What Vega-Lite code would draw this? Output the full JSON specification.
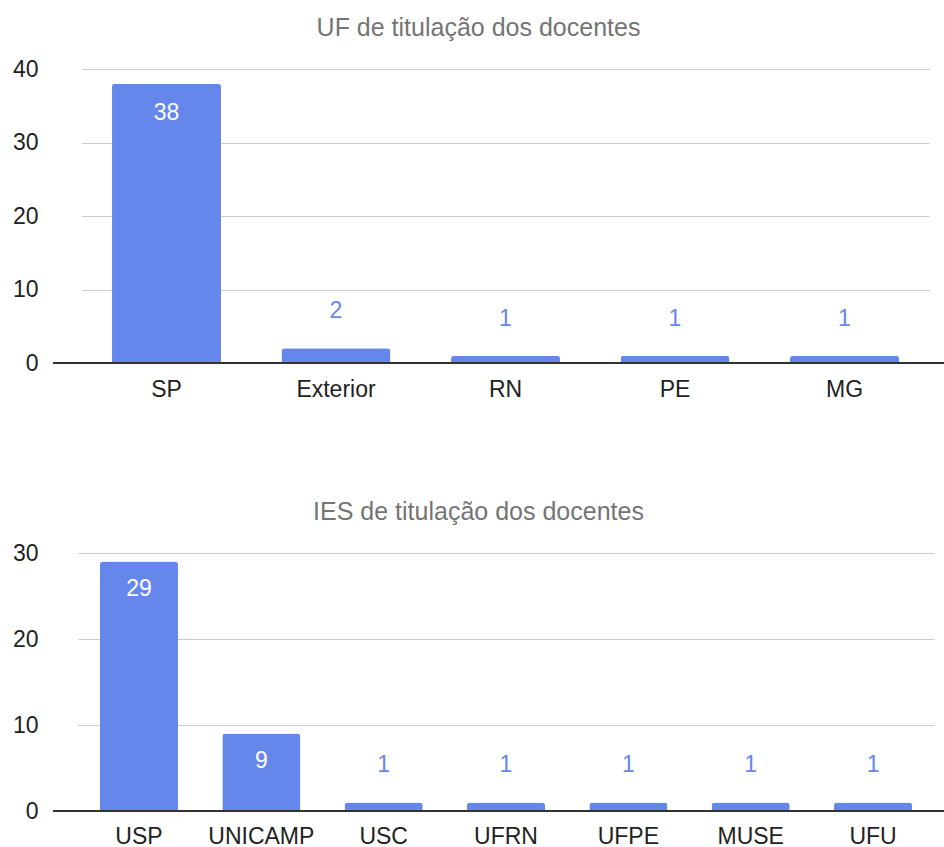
{
  "$schema": "https://vega.github.io/schema/vega-lite/v6.json",
  "background": "white",
  "padding": {"left": 12, "top": 16, "right": 0, "bottom": 0},
  "spacing": 99,
  "config": {
    "font": "Liberation Sans",
    "view": {"stroke": null},
    "title": {"font": "Liberation Sans", "fontSize": 25, "fontWeight": "normal", "color": "#757575", "anchor": "middle", "offset": 17, "dx": -20},
    "axis": {"labelFont": "Liberation Sans", "labelFontSize": 23, "labelColor": "#222222", "title": null}
  },
  "datasets": {
    "uf": [
      {"cat": "SP", "v": 38},
      {"cat": "Exterior", "v": 2},
      {"cat": "RN", "v": 1},
      {"cat": "PE", "v": 1},
      {"cat": "MG", "v": 1}
    ],
    "ies": [
      {"cat": "USP", "v": 29},
      {"cat": "UNICAMP", "v": 9},
      {"cat": "USC", "v": 1},
      {"cat": "UFRN", "v": 1},
      {"cat": "UFPE", "v": 1},
      {"cat": "MUSE", "v": 1},
      {"cat": "UFU", "v": 1}
    ]
  },
  "vconcat": [
    {
      "title": "UF de titulação dos docentes",
      "width": 891,
      "height": 294,
      "data": {"name": "uf"},
      "encoding": {
        "x": {"field": "cat", "type": "nominal", "sort": null,
              "scale": {"range": [28.75, 876.25], "paddingInner": 0.357, "paddingOuter": 0.1785},
              "axis": {"domain": false, "ticks": false, "labelAngle": 0, "labelPadding": 15}},
        "y": {"field": "v", "type": "quantitative",
              "scale": {"domain": [0, 40]},
              "axis": {"values": [0, 10, 20, 30, 40], "domain": false, "ticks": false, "gridColor": "#cccccc", "labelPadding": 15}}
      },
      "layer": [
        {"mark": {"type": "bar", "color": "#6587ec", "cornerRadiusTopLeft": 3, "cornerRadiusTopRight": 3}},
        {"mark": {"type": "rule", "color": "#333333", "strokeWidth": 1.5}, "encoding": {"x": null, "y": {"datum": 0}}},
        {"transform": [{"filter": "datum.v >= 5"}],
         "mark": {"type": "text", "color": "white", "fontSize": 23, "baseline": "top", "dy": 18},
         "encoding": {"text": {"field": "v"}}},
        {"transform": [{"filter": "datum.v < 5"}],
         "mark": {"type": "text", "color": "#6587ec", "fontSize": 23, "baseline": "bottom", "dy": -25},
         "encoding": {"text": {"field": "v"}}}
      ]
    },
    {
      "title": "IES de titulação dos docentes",
      "width": 891,
      "height": 258,
      "data": {"name": "ies"},
      "encoding": {
        "x": {"field": "cat", "type": "nominal", "sort": null,
              "scale": {"range": [24.8, 881.2], "paddingInner": 0.362, "paddingOuter": 0.181},
              "axis": {"domain": false, "ticks": false, "labelAngle": 0, "labelPadding": 14}},
        "y": {"field": "v", "type": "quantitative",
              "scale": {"domain": [0, 30]},
              "axis": {"values": [0, 10, 20, 30], "domain": false, "ticks": false, "gridColor": "#cccccc", "labelPadding": 15}}
      },
      "layer": [
        {"mark": {"type": "bar", "color": "#6587ec", "cornerRadiusTopLeft": 3, "cornerRadiusTopRight": 3}},
        {"mark": {"type": "rule", "color": "#333333", "strokeWidth": 1.5}, "encoding": {"x": null, "y": {"datum": 0}}},
        {"transform": [{"filter": "datum.v >= 5"}],
         "mark": {"type": "text", "color": "white", "fontSize": 23, "baseline": "top", "dy": 16},
         "encoding": {"text": {"field": "v"}}},
        {"transform": [{"filter": "datum.v < 5"}],
         "mark": {"type": "text", "color": "#6587ec", "fontSize": 23, "baseline": "bottom", "dy": -25},
         "encoding": {"text": {"field": "v"}}}
      ]
    }
  ]
}
